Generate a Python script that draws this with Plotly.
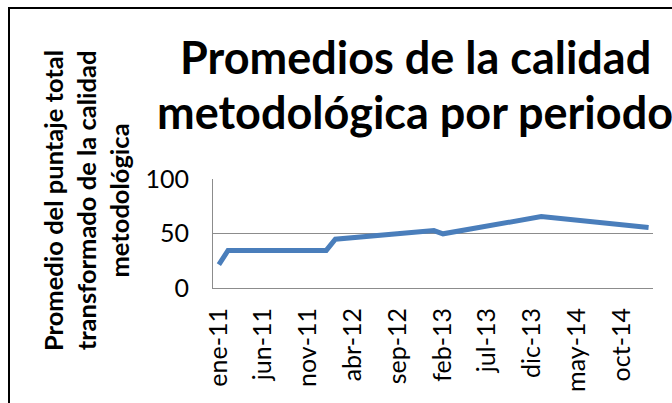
import plotly.graph_objects as go

# Data
dates = ["2011-01-01", "2011-02-01", "2012-01-01", "2012-02-01",
         "2013-01-01", "2013-02-01", "2014-01-01", "2015-01-01"]
values = [21.5, 34.4, 34.5, 44.8, 52.7, 49.7, 65.5, 55.5]

tick_dates = ["2011-01-01", "2011-06-01", "2011-11-01", "2012-04-01", "2012-09-01",
              "2013-02-01", "2013-07-01", "2013-12-01", "2014-05-01", "2014-10-01"]
tick_labels = ["ene-11", "jun-11", "nov-11", "abr-12", "sep-12",
               "feb-13", "jul-13", "dic-13", "may-14", "oct-14"]

title_lines = ["Promedios de la calidad", "metodológica por periodo"]
ytitle_text = "Promedio del puntaje total<br>transformado de la calidad<br>metodológica"

W, H = 672, 403
L, R, T, B = 213, 19, 179, 115
pw = W - L - R
ph = H - T - B

def px2paper_x(px):
    return (px - L) / pw

def px2paper_y(py):
    return (H - B - py) / ph

FONT = "Lato, Liberation Sans, Arial, sans-serif"

fig = go.Figure()
fig.add_trace(go.Scatter(
    x=dates, y=values, mode="lines",
    line=dict(color="#4A7EBB", width=5),
    hoverinfo="skip", showlegend=False,
))

annotations = []
# chart title, two centred lines (middle of each line in pixels)
for line_text, cy in zip(title_lines, [57, 112]):
    annotations.append(dict(
        text="<b>" + line_text + "</b>",
        xref="paper", yref="paper",
        x=px2paper_x(415), y=px2paper_y(cy),
        xanchor="center", yanchor="middle",
        showarrow=False,
        font=dict(family=FONT, size=45, color="black"),
    ))
annotations.append(dict(
    text="<b>" + ytitle_text + "</b>",
    xref="paper", yref="paper",
    x=px2paper_x(86), y=px2paper_y(201),
    xanchor="center", yanchor="middle",
    textangle=-90, showarrow=False, align="center",
    font=dict(family=FONT, size=25.5, color="black"),
))

fig.update_layout(
    width=W, height=H,
    margin=dict(l=L, r=R, t=T, b=B, pad=0, autoexpand=False),
    paper_bgcolor="white", plot_bgcolor="white",
    font=dict(family=FONT, color="black"),
    xaxis=dict(
        type="date", automargin=False,
        range=["2010-12-12", "2015-01-16"],
        tickvals=tick_dates, ticktext=tick_labels,
        tickangle=-90,
        tickfont=dict(family=FONT, size=25, color="black"),
        showgrid=False, showline=True, linecolor="#8C8C8C", linewidth=1,
        ticks="", zeroline=False, ticklabelstandoff=9,
    ),
    yaxis=dict(
        range=[0, 100], tickvals=[0, 50, 100], automargin=False,
        tickfont=dict(family=FONT, size=25, color="black"),
        showgrid=True, gridcolor="#8C8C8C", gridwidth=1,
        showline=True, linecolor="#8C8C8C", linewidth=1,
        ticks="", zeroline=False, ticklabelstandoff=18,
    ),
    shapes=[dict(
        type="rect", xref="paper", yref="paper",
        x0=px2paper_x(9), x1=px2paper_x(720),
        y0=px2paper_y(440), y1=px2paper_y(8),
        line=dict(color="black", width=2), fillcolor="rgba(0,0,0,0)",
        layer="below",
    )],
    annotations=annotations,
)

fig.write_html("out.html", config={"displayModeBar": False},
               post_script="document.body.style.margin='0';")
